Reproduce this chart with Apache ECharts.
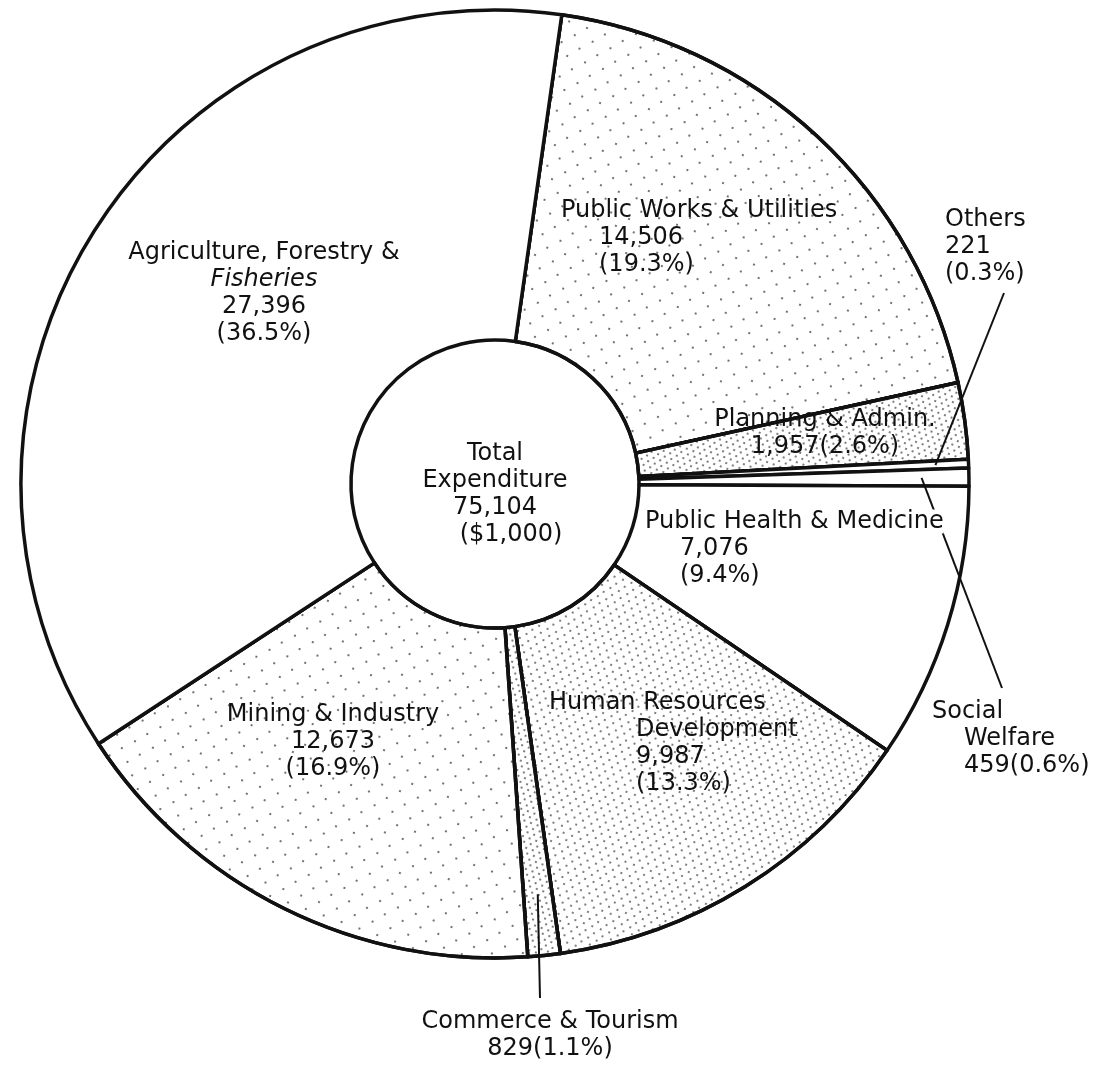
<!DOCTYPE html>
<html>
<head>
<meta charset="utf-8">
<title>Total Expenditure 75,104 ($1,000)</title>
<script src="https://cdn.jsdelivr.net/npm/echarts@6/dist/echarts.min.js"></script>
<style>
  html, body { margin: 0; padding: 0; background: #fff; }
  #chart { width: 1097px; height: 1065px; }
</style>
</head>
<body>
<div id="chart"></div>
<script>
// slices, clockwise from the top separator
const categories = [
  'Public Works & Utilities',
  'Planning & Admin.',
  'Others',
  'Social\nWelfare',
  'Public Health & Medicine',
  'Human Resources\nDevelopment',
  'Commerce & Tourism',
  'Mining & Industry',
  'Agriculture, Forestry &\nFisheries'
];
const values = [14506, 1957, 221, 459, 7076, 9987, 829, 12673, 27396];
const shares = [19.3, 2.6, 0.3, 0.6, 9.4, 13.3, 1.1, 16.9, 36.5];
const centerLines = ['Total', 'Expenditure', '75,104', '($1,000)'];

const FONT = '"DejaVu Sans", sans-serif';
const INK = '#111';
const CENTER = [495, 484];
const RADIUS = [144, 474];
const START = 81.9;

// dotted fills standing in for the stipple of the print
const stipple = {
  light: {
    symbol: 'rect', symbolSize: 1, color: 'rgba(0,0,0,0.55)',
    dashArrayX: [[1.2, 16.8], [0, 9, 1.2, 7.8]], dashArrayY: [1.2, 8.8], rotation: 0.35
  },
  medium: {
    symbol: 'rect', symbolSize: 1, color: 'rgba(0,0,0,0.5)',
    dashArrayX: [[1.2, 6.8], [0, 4, 1.2, 2.8]], dashArrayY: [1.2, 3.8], rotation: 0.35
  },
  dense: {
    symbol: 'rect', symbolSize: 1, color: 'rgba(0,0,0,0.5)',
    dashArrayX: [[1.2, 4.3], [0, 2.7, 1.2, 1.6]], dashArrayY: [1.2, 2.6], rotation: 0.35
  }
};
const fills = ['light', 'dense', null, null, null, 'medium', 'dense', 'light', null];

// where each text block sits (top of block), plus leader lines
const labelSpots = [
  { x: 561, y: 197, align: 'left', indent: 38 },
  { x: 825, y: 406, align: 'center', inline: true },
  { x: 945, y: 206, align: 'left', lead: { end: [1004, 293], depth: 0.93 } },
  { x: 932, y: 698, align: 'left', indent: 32, inline: true, lead: { end: [1002, 688], depth: 0.9 } },
  { x: 645, y: 508, align: 'left', indent: 35, mask: true },
  { x: 549, y: 689, align: 'left', indent: 87 },
  { x: 550, y: 1008, align: 'center', inline: true, lead: { end: [540, 998], depth: 0.87 } },
  { x: 333, y: 701, align: 'center' },
  { x: 264, y: 239, align: 'center', italic: [1] }
];

const chart = echarts.init(document.getElementById('chart'));

// the slices themselves
const sliceData = categories.map((name, i) => ({
  name: name,
  value: values[i],
  itemStyle: Object.assign({ color: '#fff' }, fills[i] ? { decal: stipple[fills[i]] } : {})
}));

// same slices again, see-through, only to carry texts and leaders above the fills
const labelData = categories.map((name, i) => {
  const spot = labelSpots[i];
  const pad = [0, 0, 0, spot.indent || 0];
  const rich = {
    b: { padding: pad, lineHeight: 27 },
    bi: { padding: pad, lineHeight: 27, fontStyle: 'italic' }
  };
  if (spot.mask) rich.a = { backgroundColor: '#fff', lineHeight: 27 };
  return {
    name: name,
    value: values[i],
    label: { position: spot.lead ? 'outside' : 'inside', rich: rich },
    labelLine: { show: !!spot.lead }
  };
});

const option = {
  animation: false,
  backgroundColor: '#fff',
  graphic: [{
    type: 'text',
    x: CENTER[0],
    y: 440,
    silent: true,
    style: {
      text: centerLines.slice(0, 3).join('\n') + '\n{r|' + centerLines[3] + '}',
      textAlign: 'center',
      textVerticalAlign: 'top',
      font: '24px ' + FONT,
      lineHeight: 27,
      fill: INK,
      rich: { r: { padding: [0, 0, 0, 32], lineHeight: 27 } }
    }
  }],
  series: [{
    type: 'pie',
    z: 2,
    silent: true,
    center: CENTER,
    radius: RADIUS,
    startAngle: START,
    clockwise: true,
    emphasis: { disabled: true },
    itemStyle: { borderColor: INK, borderWidth: 3.5 },
    label: { show: false },
    labelLine: { show: false },
    data: sliceData
  }, {
    type: 'pie',
    z: 3,
    silent: true,
    center: CENTER,
    radius: RADIUS,
    startAngle: START,
    clockwise: true,
    avoidLabelOverlap: false,
    emphasis: { disabled: true },
    itemStyle: { color: 'rgba(0,0,0,0)', borderWidth: 0 },
    label: {
      show: true,
      fontFamily: FONT,
      fontSize: 24,
      lineHeight: 27,
      color: INK,
      overflow: 'none',
      formatter: function (p) {
        const i = p.dataIndex;
        const spot = labelSpots[i];
        const num = values[i].toLocaleString('en-US');
        const pct = '(' + shares[i].toFixed(1) + '%)';
        const rows = categories[i].split('\n').concat(spot.inline ? [num + pct] : [num, pct]);
        return rows.map((r, k) => {
          if (k === 0) return '{a|' + r + '}';
          const it = spot.italic && spot.italic.indexOf(k) >= 0;
          return '{' + (it ? 'bi' : 'b') + '|' + r + '}';
        }).join('\n');
      }
    },
    labelLine: { lineStyle: { color: INK, width: 2 }, smooth: false },
    labelLayout: function (params) {
      const spot = labelSpots[params.dataIndex];
      const out = { x: spot.x, y: spot.y, align: spot.align, verticalAlign: 'top' };
      if (spot.lead && params.labelLinePoints) {
        const p0 = params.labelLinePoints[0];
        const k = spot.lead.depth;
        const start = [CENTER[0] + (p0[0] - CENTER[0]) * k, CENTER[1] + (p0[1] - CENTER[1]) * k];
        out.labelLinePoints = [start, spot.lead.end, spot.lead.end];
      }
      return out;
    },
    data: labelData
  }]
};

chart.setOption(option);
</script>
</body>
</html>
